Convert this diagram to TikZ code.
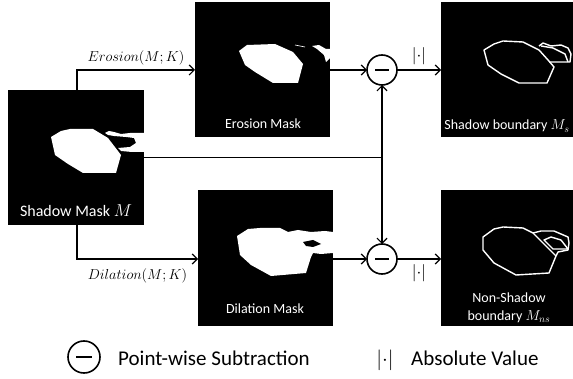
\documentclass[tikz,border=0pt]{standalone}
\usepackage{fontspec}
\setmainfont{Carlito}
\usetikzlibrary{arrows.meta}
\begin{document}
\begin{tikzpicture}[x=1pt,y=-1pt,
  img/.style={fill=black,draw=none,anchor=north west,inner sep=0pt,outer sep=0pt},
  blob/.style={fill=white,draw=none},
  edge/.style={draw=white,line width=1.4pt,line join=round},
  lbl/.style={text=white,font=\fontsize{14}{16}\selectfont,anchor=base,inner sep=0pt},
  conn/.style={line width=1.2pt,-{Straight Barb[length=5pt,width=10pt,line width=1.2pt]}},
  wire/.style={line width=1.2pt},
  minus/.style={circle,draw,line width=1.6pt,minimum size=30pt,inner sep=0pt,outer sep=0pt},
  mlbl/.style={font=\fontsize{14.5}{16}\selectfont,inner sep=0pt,anchor=base},
  alabel/.style={font=\fontsize{17}{19}\selectfont,inner sep=0pt},
  legtext/.style={font=\fontsize{21}{24}\selectfont,inner sep=0pt,anchor=base west}
]
\useasboundingbox (0,0) rectangle (573,379);

% image boxes
\node[img,minimum width=136pt,minimum height=135pt] (sm) at (8,90) {};
\node[img,minimum width=135pt,minimum height=135pt] (er) at (195,2) {};
\node[img,minimum width=135pt,minimum height=136pt] (di) at (198,190) {};
\node[img,minimum width=132pt,minimum height=135pt] (sb) at (441,2) {};
\node[img,minimum width=132pt,minimum height=136pt] (nb) at (441,190) {};

% shadow mask blobs
\begin{scope}[shift={(8,90)}]
  \fill[white] (43,47) -- (53,41) -- (62,39) -- (85,39) -- (100,48) -- (113,65) -- (108,83) -- (75,83) -- (60,74) -- (47,65) -- cycle;
  \fill[white] (97,43) -- (101,41) -- (106,42) -- (113,44) -- (122,43) -- (136,43) -- (136,62) -- (124,62) -- (113,61) -- (110,58) -- (122,57) -- (128,53) -- (126,48) -- (118,47) -- (106,46) -- (100,45) -- cycle;
\end{scope}
% erosion blobs
\begin{scope}[shift={(195,2)}]
  \fill[white] (44,49) -- (52,43) -- (80,42) -- (98,50) -- (108,62) -- (103,81) -- (78,81) -- (60,70) -- (50,63) -- cycle;
  \fill[white] (117,44) -- (124,43) -- (131,47) -- (135,47) -- (135,56) -- (131,60) -- (129,53) -- (122,47) -- cycle;
  \draw[white,line width=0.6pt] (100,43) -- (110,45);
\end{scope}
% dilation blobs
\begin{scope}[shift={(198,190)}]
  \fill[white] (39,46) -- (50,39) -- (62,38) -- (82,38) -- (90,42) -- (100,40) -- (113,42) -- (127,41) -- (135,42) -- (135,63) -- (123,64) -- (115,63) -- (113,67) -- (108,83) -- (73,86) -- (53,75) -- (42,65) -- cycle;
  \fill[black] (105,52) -- (115,50) -- (123,54) -- (115,57) -- (108,56) -- cycle;
\end{scope}
% shadow boundary outlines
\begin{scope}[shift={(441,2)}]
  \draw[edge] (43,48) -- (53,42) -- (62,39) -- (82,40) -- (98,48) -- (107,58) -- (113,65) -- (106,81) -- (78,81) -- (60,72) -- (47,63) -- cycle;
  \draw[edge] (98,44) -- (102,41) -- (110,44) -- (120,43) -- (127,46) -- (130,52) -- (129,60) -- (108,60);
  \draw[edge] (100,44) -- (112,46) -- (124,52) -- (127,60);
\end{scope}
% non-shadow boundary outlines
\begin{scope}[shift={(441,190)}]
  \draw[edge] (42,47) -- (53,39) -- (62,37) -- (82,38) -- (92,43) -- (102,53) -- (115,66) -- (108,83) -- (75,85) -- (53,73) -- (42,60) -- cycle;
  \draw[edge] (92,43) -- (100,41) -- (113,41) -- (127,47) -- (128,53) -- (127,60) -- (117,62) -- (115,66);
  \draw[edge] (103,50) -- (110,47) -- (120,50) -- (127,59) -- (112,59) -- cycle;
\end{scope}

% box labels
\node[lbl,font=\fontsize{16}{18}\selectfont] (tsm) at (76,217) {Shadow Mask $M$};
\node[lbl] (ter) at (263,129) {Erosion Mask};
\node[lbl] (tdi) at (265,314) {Dilation Mask};
\node[lbl] (tsb) at (507,130) {Shadow boundary $M_s$};
\node[lbl] (tnb1) at (509,303) {Non-Shadow};
\node[lbl] (tnb2) at (509,320) {boundary $M_{ns}$};

% subtraction circles
\node[minus] (c1) at (382,70) {};
\node[minus] (c2) at (382,259) {};
\draw[line width=1.6pt] ([xshift=-7pt]c1.center) -- ([xshift=7pt]c1.center);
\draw[line width=1.6pt] ([xshift=-7pt]c2.center) -- ([xshift=7pt]c2.center);

% connectors
\draw[conn] ([xshift=69pt]sm.north west) |- (er.west |- c1) node[mlbl,pos=0.75,above=4pt] (le) {$Erosion(M;K)$};
\draw[conn] ([xshift=69pt]sm.south west) |- (di.west |- c2) node[mlbl,pos=0.75,below=9pt] (ld) {$Dilation(M;K)$};
\coordinate (j) at (sm.east -| c1);
\draw[wire] (sm.east) -- (j);
\draw[conn] (j) -- (c1.south);
\draw[conn] (j) -- (c2.north);
\draw[conn] (er.east |- c1) -- (c1.west);
\draw[conn] (di.east |- c2) -- (c2.west);
\draw[conn] (c1.east) -- (sb.west |- c1) node[alabel,midway,above=5pt] (a1) {$|{\cdot}|$};
\draw[conn] (c2.east) -- (nb.west |- c2) node[alabel,midway,below=5pt] (a2) {$|{\cdot}|$};

% legend
\node[minus,minimum size=32pt] (lg) at (84,357) {};
\draw[line width=1.6pt] ([xshift=-8pt]lg.center) -- ([xshift=8pt]lg.center);
\node[legtext] (lt1) at (118,365) {Point-wise Subtraction};
\node[font=\fontsize{21}{23}\selectfont,inner sep=0pt,anchor=base] (lg2) at (385,365) {$|{\cdot}|$};
\node[legtext] (lt2) at (411,365) {Absolute Value};
\end{tikzpicture}
\end{document}
